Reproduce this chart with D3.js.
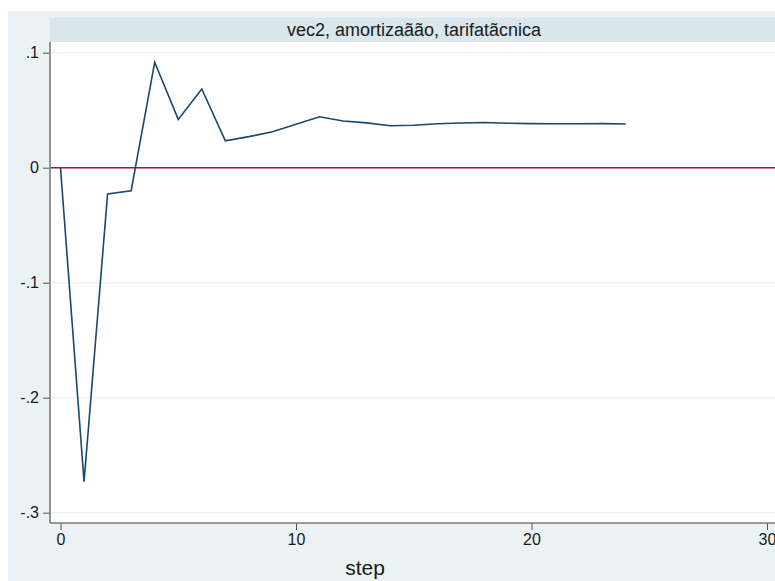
<!DOCTYPE html>
<html>
<head>
<meta charset="utf-8">
<script src="https://cdn.jsdelivr.net/npm/d3@7"></script>
<style>
  html, body { margin: 0; padding: 0; background: #ffffff; }
  svg { display: block; }
  text { font-family: "Liberation Sans", Arial, sans-serif; fill: #1a1a1a; }
</style>
</head>
<body>
<svg id="chart" width="775" height="581"></svg>
<script>
// Impulse response: vec2, impulse amortização, response tarifa técnica
const panelTitle = "vec2, amortizaãão, tarifatãcnica";
const xTitle = "step";
const steps = [0, 1, 2, 3, 4, 5, 6, 7, 8, 9, 10, 11, 12, 13, 14, 15, 16, 17, 18, 19, 20, 21, 22, 23, 24];
const irf = [0, -0.273, -0.0229, -0.020, 0.0917, 0.042, 0.0684, 0.0233, 0.027, 0.0313, 0.0377, 0.0443, 0.0406, 0.039, 0.0365, 0.0369, 0.0382, 0.0389, 0.0393, 0.0387, 0.0383, 0.0382, 0.0382, 0.0383, 0.038];
const xTicks = [0, 10, 20, 30];
const yTicks = [-0.3, -0.2, -0.1, 0, 0.1];
const yTickLabels = ["-.3", "-.2", "-.1", "0", ".1"];

const svg = d3.select("#chart");
const W = 775, H = 581;

// graph region background
svg.append("rect").attr("x", 8).attr("y", 11).attr("width", W - 8).attr("height", H - 11)
  .attr("fill", "#eaf2f3");

// plot region
const plot = { left: 50, top: 42, right: 775, bottom: 523 };
svg.append("rect").attr("x", plot.left).attr("y", plot.top)
  .attr("width", plot.right - plot.left).attr("height", plot.bottom - plot.top)
  .attr("fill", "#ffffff");

// subtitle band
svg.append("rect").attr("x", plot.left).attr("y", 17.5).attr("width", plot.right - plot.left).attr("height", 24.5)
  .attr("fill", "#d9e6ec");
svg.append("text").attr("x", 414).attr("y", 35.5).attr("text-anchor", "middle")
  .attr("font-size", 18).text(panelTitle);

const x = d3.scaleLinear().domain([0, 30]).range([60.5, 767]);
const y = d3.scaleLinear().domain([-0.3, 0.1]).range([512.7, 52.7]);

// horizontal gridlines
svg.append("g").selectAll("line").data(yTicks).join("line")
  .attr("x1", plot.left + 1).attr("x2", plot.right)
  .attr("y1", d => y(d)).attr("y2", d => y(d))
  .attr("stroke", "#eaf2f3").attr("stroke-width", 1.5);

// y axis
const yAxis = d3.axisLeft(y).tickValues(yTicks).tickSize(7).tickPadding(4)
  .tickFormat((d, i) => yTickLabels[i]);
const gy = svg.append("g").attr("transform", `translate(${plot.left},0)`).call(yAxis);
gy.select(".domain").remove();
gy.selectAll(".tick line").attr("stroke", "#555").attr("stroke-width", 1);
gy.selectAll(".tick text").attr("font-size", 16).attr("font-family", "Liberation Sans, Arial, sans-serif").attr("fill", "#1a1a1a");
svg.append("line").attr("x1", plot.left).attr("x2", plot.left).attr("y1", plot.top).attr("y2", plot.bottom)
  .attr("stroke", "#7a7a7a").attr("stroke-width", 1.6);

// x axis
const xAxis = d3.axisBottom(x).tickValues(xTicks).tickSize(7).tickPadding(4).tickFormat(d3.format("d"));
const gx = svg.append("g").attr("transform", `translate(0,${plot.bottom})`).call(xAxis);
gx.select(".domain").remove();
gx.selectAll(".tick line").attr("stroke", "#555").attr("stroke-width", 1);
gx.selectAll(".tick text").attr("font-size", 16).attr("font-family", "Liberation Sans, Arial, sans-serif").attr("fill", "#1a1a1a");
svg.append("line").attr("x1", plot.left).attr("x2", plot.right).attr("y1", plot.bottom).attr("y2", plot.bottom)
  .attr("stroke", "#7a7a7a").attr("stroke-width", 1.6);

svg.append("text").attr("x", 365).attr("y", 575).attr("text-anchor", "middle")
  .attr("font-size", 21).text(xTitle);

// zero reference line
svg.append("line").attr("x1", plot.left + 1).attr("x2", plot.right)
  .attr("y1", y(0)).attr("y2", y(0))
  .attr("stroke", "#c10534").attr("stroke-width", 1.5);

// response line
const line = d3.line().x((d, i) => x(steps[i])).y(d => y(d));
svg.append("path").datum(irf).attr("d", line)
  .attr("fill", "none").attr("stroke", "#1a476f").attr("stroke-width", 1.6)
  .attr("stroke-linejoin", "miter");
</script>
</body>
</html>
